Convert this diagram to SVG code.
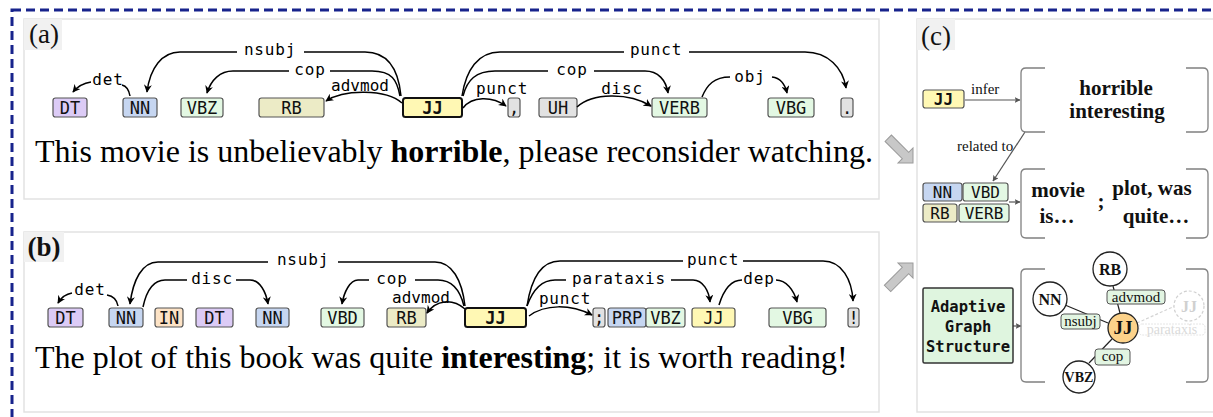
<svg xmlns="http://www.w3.org/2000/svg" width="1213" height="417" viewBox="0 0 1213 417">
<defs>
<marker id="ah" viewBox="0 0 10 10" refX="9" refY="5" markerWidth="8" markerHeight="8" markerUnits="userSpaceOnUse" orient="auto"><path d="M0,0 L10,5 L0,10 L3,5 Z" fill="#000"/></marker>
<marker id="ahg" viewBox="0 0 10 10" refX="9" refY="5" markerWidth="6" markerHeight="6" markerUnits="userSpaceOnUse" orient="auto"><path d="M0,0 L10,5 L0,10 L2,5 Z" fill="#555"/></marker>
</defs>
<style>
.outer{fill:none;stroke:#17238c;stroke-width:3;stroke-dasharray:9 5}
.panel{fill:#fff;stroke:#e2e2e2;stroke-width:1.5}
.plab{fill:#f1f1f1}
.ptxt{font-family:"Liberation Serif",serif;font-size:27px;fill:#111;text-anchor:middle}
.tag rect{stroke:#555;stroke-width:1.2}
.tag text{font-family:"DejaVu Sans Mono",monospace;font-size:17px;text-anchor:middle;fill:#111}
.ctag text{font-size:16px}
.dt{fill:#dccbf6}.nn{fill:#c6d6f1}.vb{fill:#e3f8e3}.rb{fill:#ecebc6}.jj{fill:#fff8b4}.gr{fill:#e2e2e2}.in{fill:#fde3c6}
.main rect{stroke:#111;stroke-width:2}
.main text{font-weight:bold}
.arc{fill:none;stroke:#000;stroke-width:1.5}
.alab{font-family:"DejaVu Sans Mono",monospace;font-size:16px;letter-spacing:0.8px;text-anchor:middle;fill:#000}
.sent{font-family:"Liberation Serif",serif;font-size:32px;fill:#000}
.brk{fill:none;stroke:#808080;stroke-width:1.3}
.gl{fill:none;stroke:#555;stroke-width:1.2}
.small{font-family:"Liberation Serif",serif;font-size:15px;fill:#111}
.big{font-family:"Liberation Serif",serif;font-size:21px;font-weight:bold;fill:#111;text-anchor:middle}
.blk{fill:#c8c8c8;stroke:#9a9a9a;stroke-width:1}
.gnode circle{fill:#fff;stroke:#222;stroke-width:1.3}
.gnode text{font-family:"Liberation Serif",serif;font-weight:bold;font-size:16px;text-anchor:middle;fill:#111}
.elab rect{fill:#e2f5e2;stroke:#555;stroke-width:1}
.elab text{font-family:"Liberation Serif",serif;font-size:15px;text-anchor:middle;fill:#111}
.edge{stroke:#222;stroke-width:1.2}
.ags{font-family:"DejaVu Sans Mono",monospace;font-weight:bold;font-size:15.5px;text-anchor:middle;fill:#111}
</style>

<rect class="outer" x="12" y="10" width="1300" height="500"/>

<!-- panels -->
<g id="panel-a">
<rect class="panel" x="24" y="19" width="855" height="180"/>
<rect class="plab" x="24" y="19" width="38" height="31"/>
<text class="ptxt" x="44" y="43">(a)</text>
</g>
<g id="panel-b">
<rect class="panel" x="24" y="232" width="855" height="180"/>
<rect class="plab" x="24" y="232" width="40" height="30"/>
<text class="ptxt" x="44" y="256" font-weight="bold">(b)</text>
</g>
<g id="panel-c">
<rect class="panel" x="917" y="19" width="300" height="393"/>
<rect class="plab" x="917" y="19" width="38" height="31"/>
<text class="ptxt" x="936" y="45">(c)</text>
</g>

<!-- sentences -->
<text class="sent" x="35" y="162">This movie is unbelievably <tspan font-weight="bold">horrible</tspan>, please reconsider watching.</text>
<text class="sent" x="35" y="368">The plot of this book was quite <tspan font-weight="bold">interesting</tspan>; it is worth reading!</text>

<!-- (a) tags -->
<g id="a-DT" class="tag"><rect class="dt" x="53" y="98" width="34" height="19" rx="2.5"/><text x="70" y="113.5">DT</text></g>
<g id="a-NN" class="tag"><rect class="nn" x="123" y="98" width="34" height="19" rx="2.5"/><text x="140" y="113.5">NN</text></g>
<g id="a-VBZ" class="tag"><rect class="vb" x="181" y="98" width="42" height="19" rx="2.5"/><text x="202" y="113.5">VBZ</text></g>
<g id="a-RB" class="tag"><rect class="rb" x="259" y="98" width="65" height="19" rx="2.5"/><text x="291.5" y="113.5">RB</text></g>
<g id="a-JJ" class="tag main"><rect class="jj" x="403" y="98" width="59" height="19" rx="2.5"/><text x="432.5" y="113.5">JJ</text></g>
<g id="a-comma" class="tag"><rect class="gr" x="508" y="98" width="12" height="19" rx="2.5"/><text x="514" y="113.5">,</text></g>
<g id="a-UH" class="tag"><rect class="gr" x="539" y="98" width="38" height="19" rx="2.5"/><text x="558" y="113.5">UH</text></g>
<g id="a-VERB" class="tag"><rect class="vb" x="652" y="98" width="55" height="19" rx="2.5"/><text x="679.5" y="113.5">VERB</text></g>
<g id="a-VBG" class="tag"><rect class="vb" x="768" y="98" width="46" height="19" rx="2.5"/><text x="791" y="113.5">VBG</text></g>
<g id="a-dot" class="tag"><rect class="gr" x="841" y="98" width="12" height="19" rx="2.5"/><text x="847" y="113.5">.</text></g>

<!-- (b) tags -->
<g id="b-DT1" class="tag"><rect class="dt" x="48" y="308" width="35" height="19" rx="2.5"/><text x="65.5" y="323.5">DT</text></g>
<g id="b-NN1" class="tag"><rect class="nn" x="109" y="308" width="34" height="19" rx="2.5"/><text x="126" y="323.5">NN</text></g>
<g id="b-IN" class="tag"><rect class="in" x="155" y="308" width="28" height="19" rx="2.5"/><text x="169" y="323.5">IN</text></g>
<g id="b-DT2" class="tag"><rect class="dt" x="196" y="308" width="37" height="19" rx="2.5"/><text x="214.5" y="323.5">DT</text></g>
<g id="b-NN2" class="tag"><rect class="nn" x="256" y="308" width="33" height="19" rx="2.5"/><text x="272.5" y="323.5">NN</text></g>
<g id="b-VBD" class="tag"><rect class="vb" x="321" y="308" width="43" height="19" rx="2.5"/><text x="342.5" y="323.5">VBD</text></g>
<g id="b-RB" class="tag"><rect class="rb" x="387" y="308" width="39" height="19" rx="2.5"/><text x="406.5" y="323.5">RB</text></g>
<g id="b-JJ" class="tag main"><rect class="jj" x="465" y="308" width="61" height="19" rx="2.5"/><text x="495.5" y="323.5">JJ</text></g>
<g id="b-semi" class="tag"><rect class="gr" x="593" y="308" width="12" height="19" rx="2.5"/><text x="599" y="323.5">;</text></g>
<g id="b-PRP" class="tag"><rect class="nn" x="608" y="308" width="38" height="19" rx="2.5"/><text x="627" y="323.5">PRP</text></g>
<g id="b-VBZ" class="tag"><rect class="vb" x="646" y="308" width="39" height="19" rx="2.5"/><text x="665.5" y="323.5">VBZ</text></g>
<g id="b-JJ2" class="tag"><rect class="jj" x="692" y="308" width="43" height="19" rx="2.5"/><text x="713.5" y="323.5">JJ</text></g>
<g id="b-VBG" class="tag"><rect class="vb" x="769" y="308" width="57" height="19" rx="2.5"/><text x="797.5" y="323.5">VBG</text></g>
<g id="b-excl" class="tag"><rect class="gr" x="848" y="308" width="11" height="19" rx="2.5"/><text x="853.5" y="323.5">!</text></g>

<!-- connectors -->
<g id="connectors">
<!-- (a) -->
<path class="arc" marker-end="url(#ah)" d="M130,96 C129,90 126,86 122,85 M91,82 C84,83 78,86 73,92"/>
<path class="arc" marker-end="url(#ah)" d="M401,96 C398,65 385,52 365,52 L304,52 M237,52 L180,52 C162,52 150,68 147,92"/>
<path class="arc" marker-end="url(#ah)" d="M400,96 C397,80 392,71 372,71 L330,71 M289,71 L233,71 C220,71 211,80 207,93"/>
<path class="arc" marker-end="url(#ah)" d="M402,103 C386,89 344,89 326,101"/>
<path class="arc" marker-end="url(#ah)" d="M462,96 C466,70 478,52 500,52 L624,52 M689,52 L805,52 C828,52 843,68 846,88"/>
<path class="arc" marker-end="url(#ah)" d="M463,96 C467,80 476,71 495,71 L548,71 M594,71 L645,71 C658,71 666,80 668,93"/>
<path class="arc" marker-end="url(#ah)" d="M463,108 C472,96 492,96 506,106"/>
<path class="arc" marker-end="url(#ah)" d="M577,107 C592,93 628,92 651,106"/>
<path class="arc" marker-end="url(#ah)" d="M702,97 C707,85 714,77 730,77 M772,77 C780,78 785,84 787,93"/>
<!-- (b) -->
<path class="arc" marker-end="url(#ah)" d="M118,306 C117,300 113,296 107,295 M72,293 C66,294 61,298 58,303"/>
<path class="arc" marker-end="url(#ah)" d="M465,306 C462,280 452,262 435,262 L338,262 M268,262 L158,262 C142,262 133,280 130,304"/>
<path class="arc" marker-end="url(#ah)" d="M143,307 C146,293 152,280 165,280 L187,280 M236,280 L250,280 C260,280 266,292 268,304"/>
<path class="arc" marker-end="url(#ah)" d="M464,306 C460,290 452,280 438,280 L415,280 M369,280 L358,280 C350,280 344,292 342,304"/>
<path class="arc" marker-end="url(#ah)" d="M465,309 C452,298 436,300 427,313"/>
<path class="arc" marker-end="url(#ah)" d="M527,306 C531,280 540,261 560,261 L683,261 M743,261 L823,261 C842,261 852,280 853,301"/>
<path class="arc" marker-end="url(#ah)" d="M527,306 C532,292 540,280 555,280 L566,280 M671,280 L693,280 C703,280 709,291 710,302"/>
<path class="arc" marker-end="url(#ah)" d="M529,316 C545,304 570,304 592,315"/>
<path class="arc" marker-end="url(#ah)" d="M719,305 C723,292 730,280 742,280 M776,280 C786,280 794,290 797,302"/>
<!-- (c) -->
<path class="gl" marker-end="url(#ahg)" d="M965,100 L1020,100"/>
<path class="gl" marker-end="url(#ahg)" d="M1025,132 L993,181"/>
<path class="gl" marker-end="url(#ahg)" d="M1009,202 L1020,202"/>
<path class="gl" marker-end="url(#ahg)" d="M1013,326 L1021,326"/>
</g>

<!-- arc labels -->
<g id="arc-labels">
<text class="alab" x="108" y="85">det</text>
<text class="alab" x="270" y="55">nsubj</text>
<text class="alab" x="310" y="75">cop</text>
<text class="alab" x="360" y="91" style="letter-spacing:0">advmod</text>
<text class="alab" x="656" y="55">punct</text>
<text class="alab" x="572" y="75">cop</text>
<text class="alab" x="502" y="94">punct</text>
<text class="alab" x="622" y="94">disc</text>
<text class="alab" x="750" y="82">obj</text>
<text class="alab" x="90" y="295">det</text>
<text class="alab" x="303" y="265">nsubj</text>
<text class="alab" x="212" y="284">disc</text>
<text class="alab" x="392" y="284">cop</text>
<text class="alab" x="421" y="303" style="letter-spacing:0">advmod</text>
<text class="alab" x="713" y="265">punct</text>
<text class="alab" x="619" y="284">parataxis</text>
<text class="alab" x="565" y="304">punct</text>
<text class="alab" x="759" y="284">dep</text>
</g>

<!-- big gray arrows -->
<g id="arrow-down">
<polygon class="blk" transform="translate(913,163) rotate(45)" points="0,0 -10.6,10.6 -10.6,4.5 -35,4.5 -35,-4.5 -10.6,-4.5 -10.6,-10.6"/>
</g>
<g id="arrow-up">
<polygon class="blk" transform="translate(913,263) rotate(-45)" points="0,0 -10.6,10.6 -10.6,4.5 -36,4.5 -36,-4.5 -10.6,-4.5 -10.6,-10.6"/>
</g>

<!-- (c) content -->
<g id="c-JJ" class="tag ctag"><rect class="jj" x="923" y="90" width="41" height="18" rx="2.5"/><text x="943.5" y="104.5" font-weight="bold">JJ</text></g>
<text class="small" x="971" y="94">infer</text>
<g id="c-box1">
<path class="brk" d="M1045,68 L1026,68 Q1021,68 1021,73 L1021,127 Q1021,132 1026,132 L1045,132 M1186,68 L1203,68 Q1208,68 1208,73 L1208,127 Q1208,132 1203,132 L1186,132"/>
<text class="big" x="1116" y="95">horrible</text>
<text class="big" x="1117" y="118">interesting</text>
</g>
<text class="small" x="957" y="151">related to</text>
<g id="c-NN" class="tag ctag"><rect class="nn" x="923" y="183" width="39" height="18" rx="2.5"/><text x="942.5" y="197.5">NN</text></g>
<g id="c-VBD" class="tag ctag"><rect class="vb" x="963" y="183" width="45" height="18" rx="2.5"/><text x="985.5" y="197.5">VBD</text></g>
<g id="c-RB" class="tag ctag"><rect class="rb" x="923" y="204" width="34" height="18" rx="2.5"/><text x="940" y="218.5">RB</text></g>
<g id="c-VERB" class="tag ctag"><rect class="vb" x="959" y="204" width="50" height="18" rx="2.5"/><text x="984" y="218.5">VERB</text></g>
<g id="c-box2">
<path class="brk" d="M1045,169 L1026,169 Q1021,169 1021,174 L1021,233 Q1021,238 1026,238 L1045,238 M1186,169 L1203,169 Q1208,169 1208,174 L1208,233 Q1208,238 1203,238 L1186,238"/>
<text class="big" x="1058" y="197">movie</text>
<text class="big" x="1057" y="223">is…</text>
<text class="big" x="1101" y="208">;</text>
<text class="big" x="1152" y="195">plot, was</text>
<text class="big" x="1156" y="223">quite…</text>
</g>
<g id="c-AGS">
<rect x="923" y="288" width="90" height="75" fill="#dff5df" stroke="#333" stroke-width="1.5" rx="1.5"/>
<text class="ags" x="968" y="312">Adaptive</text>
<text class="ags" x="968" y="332">Graph</text>
<text class="ags" x="968" y="352">Structure</text>
</g>
<g id="c-box3">
<path class="brk" d="M1045,269 L1026,269 Q1021,269 1021,274 L1021,377 Q1021,382 1026,382 L1045,382 M1186,269 L1203,269 Q1208,269 1208,274 L1208,377 Q1208,382 1203,382 L1186,382"/>
</g>
<g id="graph-edges">
<line class="edge" x1="1113" y1="286" x2="1120" y2="313"/>
<line class="edge" x1="1065" y1="305" x2="1108" y2="323"/>
<line class="edge" x1="1089" y1="363" x2="1112" y2="339"/>
<line x1="1137" y1="323" x2="1175" y2="306" stroke="#d4d4d4" stroke-width="1.2" stroke-dasharray="3 2"/>
</g>
<g id="g-advmod" class="elab"><rect x="1107" y="290" width="58" height="14" rx="3"/><text x="1136" y="301.5">advmod</text></g>
<g id="g-nsubj" class="elab"><rect x="1061" y="314" width="39" height="15" rx="3"/><text x="1080.5" y="325.5">nsubj</text></g>
<g id="g-cop" class="elab"><rect x="1095" y="349" width="35" height="16" rx="3"/><text x="1112.5" y="361">cop</text></g>
<g id="g-parataxis"><rect x="1139" y="324" width="66" height="11" rx="3" fill="none" stroke="#e6e6e6" stroke-width="1" stroke-dasharray="2 1"/><text x="1172" y="334" font-family="Liberation Serif, serif" font-size="14" text-anchor="middle" fill="#dadada">parataxis</text></g>
<g id="g-JJ" class="gnode"><circle cx="1123" cy="328" r="15" style="fill:#fcd28a"/><text x="1123" y="334" style="font-size:19px">JJ</text></g>
<g id="g-RB" class="gnode"><circle cx="1110" cy="269" r="17"/><text x="1110" y="274.5">RB</text></g>
<g id="g-NN" class="gnode"><circle cx="1050" cy="299" r="17"/><text x="1050" y="304.5">NN</text></g>
<g id="g-VBZ" class="gnode"><circle cx="1079" cy="377" r="16"/><text x="1079" y="382" style="font-size:14px">VBZ</text></g>
<g id="g-JJ2"><circle cx="1189" cy="306" r="15" fill="#fff" stroke="#d0d0d0" stroke-width="1.2" stroke-dasharray="3 2"/><text x="1189" y="311.5" font-family="Liberation Serif, serif" font-weight="bold" font-size="16" text-anchor="middle" fill="#d0d0d0">JJ</text></g>
</svg>
